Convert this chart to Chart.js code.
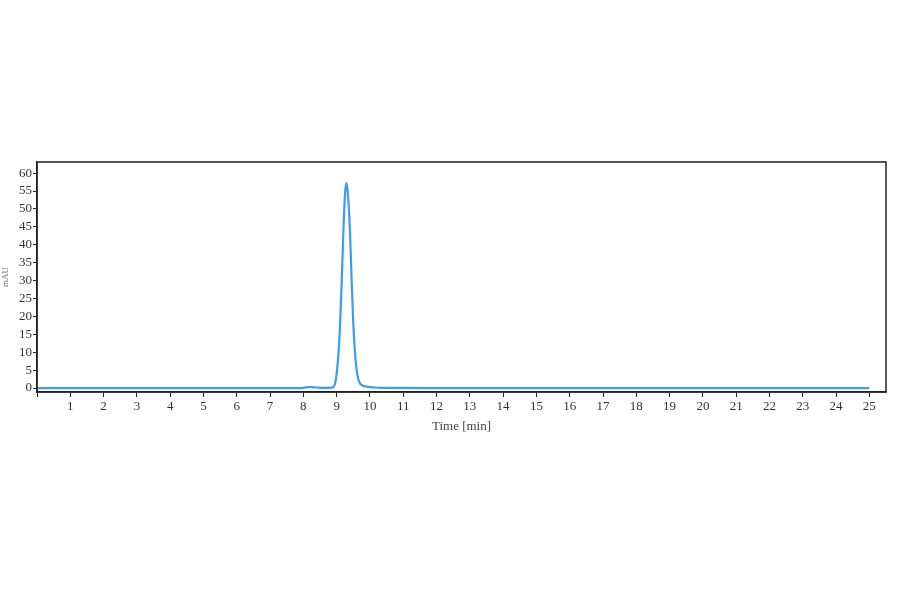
<!DOCTYPE html>
<html>
<head>
<meta charset="utf-8">
<script src="https://cdn.jsdelivr.net/npm/chart.js@4/dist/chart.umd.min.js"></script>
<style>
  html, body { margin:0; padding:0; background:#fff; overflow:hidden; }
  #chart { display:block; }
</style>
</head>
<body>
<canvas id="chart" width="900" height="594"></canvas>
<script>
// ========================
// DATA
// ========================
const timeMin = [0, 7.8, 8.0, 8.2, 8.4, 8.6, 8.85, 8.95, 9.0, 9.05, 9.1, 9.15, 9.2, 9.25, 9.29,
  9.33, 9.4, 9.45, 9.5, 9.55, 9.6, 9.65, 9.7, 9.8, 9.9, 10.0, 10.1, 10.3, 12, 25];
const signalMau = [0, 0, 0.05, 0.3, 0.15, 0.05, 0.1, 1.2, 4, 9, 17, 29, 43, 54, 57.2,
  55, 44, 30, 18, 10, 5, 2.5, 1.3, 0.6, 0.4, 0.3, 0.2, 0.05, 0, 0];
const xTicks = [0,1,2,3,4,5,6,7,8,9,10,11,12,13,14,15,16,17,18,19,20,21,22,23,24,25];
const yTicks = [0,5,10,15,20,25,30,35,40,45,50,55,60];

const LINE_COLOR = '#3d9cf0';
const FONT = 'Liberation Serif';

// cadre noir autour de la zone de tracé
const framePlugin = {
  id: 'frame',
  afterDraw(chart) {
    const { ctx, chartArea: a } = chart;
    ctx.save();
    ctx.strokeStyle = '#222';
    ctx.lineWidth = 1.5;
    ctx.strokeRect(a.left, a.top, a.right - a.left, a.bottom - a.top);
    ctx.restore();
  }
};

new Chart(document.getElementById('chart'), {
  type: 'line',
  data: {
    datasets: [{
      data: timeMin.map((t, i) => ({ x: t, y: signalMau[i] })),
      borderColor: LINE_COLOR,
      borderWidth: 2.2,
      pointRadius: 0,
      cubicInterpolationMode: 'monotone',
      fill: false
    }]
  },
  options: {
    responsive: false,
    animation: false,
    devicePixelRatio: 1,
    layout: { padding: { top: 162, right: 14, left: 0, bottom: 160 } },
    plugins: { legend: { display: false }, tooltip: { enabled: false } },
    scales: {
      x: {
        type: 'linear', min: 0, max: 25.5,
        afterBuildTicks: s => { s.ticks = xTicks.map(v => ({ value: v })); },
        afterFit: s => { s.height = 42; },
        grid: { drawOnChartArea: false, color: '#222', tickLength: 5, tickWidth: 1 },
        border: { color: '#222', width: 1.5 },
        ticks: {
          color: '#333', font: { family: FONT, size: 13 }, padding: 2,
          maxRotation: 0, autoSkip: false,
          callback: v => v === 0 ? '' : v
        },
        title: { display: true, text: 'Time [min]', color: '#444', font: { family: FONT, size: 13 }, padding: { top: 3, bottom: 0 } }
      },
      y: {
        type: 'linear', min: -1.1, max: 63.1,
        afterBuildTicks: s => { s.ticks = yTicks.map(v => ({ value: v })); },
        afterFit: s => { s.width = 37; },
        grid: { drawOnChartArea: false, color: '#222', tickLength: 4, tickWidth: 1 },
        border: { color: '#222', width: 1.5 },
        ticks: { color: '#333', font: { family: FONT, size: 13 }, padding: 1 },
        title: { display: true, text: 'mAU', color: '#666', font: { family: FONT, size: 9 }, padding: 0 }
      }
    }
  },
  plugins: [framePlugin]
});
</script>
</body>
</html>
